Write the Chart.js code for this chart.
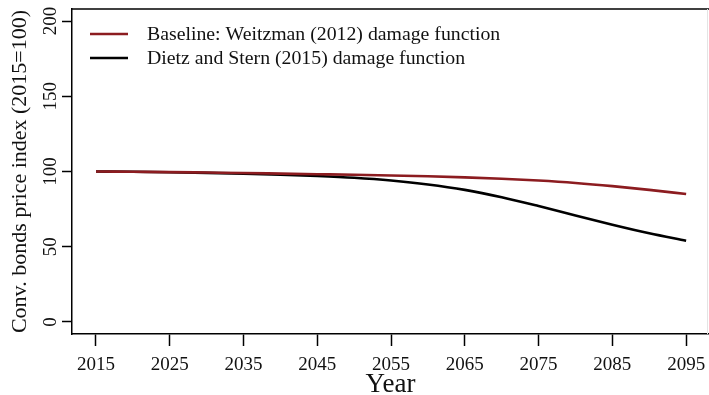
<!DOCTYPE html>
<html>
<head>
<meta charset="utf-8">
<script src="https://cdn.jsdelivr.net/npm/chart.js@4"></script>
<style>
  html, body { margin: 0; padding: 0; background: #fff; }
  #wrap { width: 709px; height: 395px; position: relative; }
</style>
</head>
<body>
<div id="wrap"><canvas id="c" width="709" height="395"></canvas></div>
<script>
// Price index of conventional bonds under two damage functions
const years = [2015, 2020, 2025, 2030, 2035, 2040, 2045, 2050, 2055, 2060, 2065, 2070, 2075, 2080, 2085, 2090, 2095];
const weitzman = [100, 99.8, 99.6, 99.3, 99.0, 98.6, 98.2, 97.8, 97.3, 96.8, 96.1, 95.2, 94.0, 92.4, 90.3, 87.8, 85.0];
const dietzStern = [100, 99.8, 99.5, 99.1, 98.6, 97.9, 97.0, 95.8, 94.0, 91.4, 87.8, 82.9, 77.0, 70.7, 64.6, 58.9, 54.0];

const seriesLabels = ['Baseline: Weitzman (2012) damage function', 'Dietz and Stern (2015) damage function'];
const seriesColors = ['#8c1c20', '#000000'];

const xTicks = [2015, 2025, 2035, 2045, 2055, 2065, 2075, 2085, 2095];
const yTicks = [0, 50, 100, 150, 200];

const FONT = "'Liberation Serif', 'Times New Roman', serif";

const toPoints = vals => years.map((yr, i) => ({ x: yr, y: vals[i] }));

// frame: top edge of the box, faint right edge, legend inside the plot
const framePlugin = {
  id: 'frame',
  afterDraw(chart) {
    const { ctx, chartArea: a } = chart;
    ctx.save();
    ctx.strokeStyle = '#000';
    ctx.lineWidth = 1.5;
    ctx.beginPath();
    ctx.moveTo(a.left - 0.75, a.top);
    ctx.lineTo(a.right, a.top);
    ctx.stroke();
    ctx.strokeStyle = '#e4e4e4';
    ctx.lineWidth = 1;
    ctx.beginPath();
    ctx.moveTo(a.right - 1.5, a.top);
    ctx.lineTo(a.right - 1.5, a.bottom);
    ctx.stroke();

    // legend
    ctx.font = "19.8px " + FONT;
    ctx.textBaseline = 'middle';
    ctx.textAlign = 'left';
    chart.data.datasets.forEach((ds, i) => {
      const y = 34 + i * 24;
      ctx.strokeStyle = ds.borderColor;
      ctx.lineWidth = 2.5;
      ctx.beginPath();
      ctx.moveTo(90, y);
      ctx.lineTo(128, y);
      ctx.stroke();
      ctx.fillStyle = '#111';
      ctx.fillText(ds.label, 147, y + 1);
    });
    ctx.restore();
  }
};

// fixed axis boxes so the plot area sits at a known place
const fixBox = size => s => {
  if (s.isHorizontal()) { s.height = size; } else { s.width = size; }
  s.paddingLeft = 0; s.paddingRight = 0; s.paddingTop = 0; s.paddingBottom = 0;
};

new Chart(document.getElementById('c'), {
  type: 'line',
  data: {
    datasets: [
      { label: seriesLabels[0], data: toPoints(weitzman), borderColor: seriesColors[0], borderWidth: 2.6, pointRadius: 0, cubicInterpolationMode: 'monotone' },
      { label: seriesLabels[1], data: toPoints(dietzStern), borderColor: seriesColors[1], borderWidth: 2.6, pointRadius: 0, cubicInterpolationMode: 'monotone' }
    ]
  },
  options: {
    responsive: false,
    animation: false,
    layout: { padding: { top: 9, right: 0, left: 0, bottom: 0 } },
    plugins: { legend: { display: false }, tooltip: { enabled: false } },
    scales: {
      x: {
        type: 'linear',
        min: 2011.75,
        max: 2098.1,
        afterBuildTicks: s => { s.ticks = xTicks.map(v => ({ value: v })); },
        afterFit: fixBox(61),
        grid: { drawOnChartArea: false, drawTicks: true, tickLength: 12, tickColor: '#000', tickWidth: 1.5 },
        border: { display: true, color: '#000', width: 1.5 },
        ticks: { color: '#111', font: { family: FONT, size: 19 }, padding: 8, maxRotation: 0, autoSkip: false, callback: v => String(v) },
        title: { display: true, text: 'Year', color: '#111', font: { family: FONT, size: 27 }, padding: { top: -10, bottom: -6 } }
      },
      y: {
        type: 'linear',
        min: -8,
        max: 208,
        afterBuildTicks: s => { s.ticks = yTicks.map(v => ({ value: v })); },
        afterFit: fixBox(72),
        grid: { drawOnChartArea: false, drawTicks: true, tickLength: 10, tickColor: '#000', tickWidth: 1.5 },
        border: { display: true, color: '#000', width: 1.5 },
        ticks: { color: '#111', font: { family: FONT, size: 19 }, padding: -3, minRotation: 90, maxRotation: 90, crossAlign: 'center', autoSkip: false, callback: v => String(v) },
        title: { display: true, text: 'Conv. bonds price index (2015=100)', color: '#111', font: { family: FONT, size: 22 }, padding: { top: 7, bottom: 0 } }
      }
    }
  },
  plugins: [framePlugin]
});
</script>
</body>
</html>
